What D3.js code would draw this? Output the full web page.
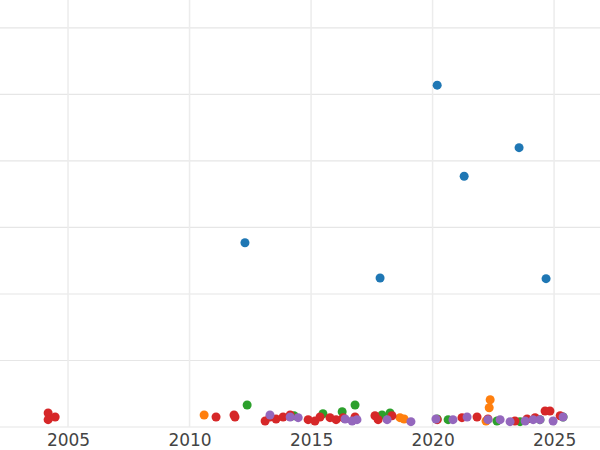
<!DOCTYPE html>
<html><head><meta charset="utf-8">
<script src="https://cdn.jsdelivr.net/npm/d3@7"></script>
<style>body{margin:0;background:#fff}</style></head>
<body><svg id="c" width="600" height="450"></svg>
<script>
const blue=[[2020.19,5.14],[2023.56,4.20],[2021.30,3.77],[2012.28,2.77],[2017.84,2.24],[2024.67,2.23]];
const orange=[[2010.60,0.18],[2018.66,0.14],[2018.83,0.12],[2022.37,0.41],[2022.33,0.29],[2022.20,0.09]];
const green=[[2012.37,0.33],[2014.30,0.17],[2015.49,0.20],[2016.28,0.23],[2016.81,0.33],[2017.92,0.18],[2018.25,0.21],[2020.19,0.12],[2020.64,0.11],[2022.65,0.09],[2023.60,0.08],[2024.42,0.11],[2025.37,0.15]];
const red=[[2004.18,0.21],[2004.18,0.11],[2004.47,0.15],[2011.09,0.15],[2011.83,0.18],[2011.87,0.15],[2013.11,0.09],[2013.31,0.15],[2013.56,0.12],[2013.85,0.15],[2014.14,0.18],[2014.88,0.11],[2015.16,0.09],[2015.37,0.15],[2015.78,0.14],[2016.03,0.11],[2016.32,0.14],[2016.81,0.15],[2017.63,0.17],[2017.76,0.11],[2018.33,0.17],[2020.19,0.11],[2021.21,0.14],[2021.83,0.15],[2022.28,0.12],[2023.39,0.09],[2023.89,0.12],[2024.22,0.14],[2024.63,0.24],[2024.83,0.24],[2025.25,0.17]];
const purple=[[2013.31,0.18],[2014.14,0.15],[2014.47,0.14],[2016.40,0.12],[2016.69,0.09],[2016.89,0.11],[2018.13,0.11],[2019.11,0.08],[2020.14,0.12],[2020.84,0.11],[2021.42,0.15],[2022.28,0.11],[2022.78,0.11],[2023.19,0.08],[2023.81,0.09],[2024.14,0.11],[2024.42,0.11],[2024.96,0.09],[2025.37,0.15]];
const xTicks=[2005,2010,2015,2020,2025];
const yTicks=[0,1,2,3,4,5,6];
const svg=d3.select("#c");
const x=d3.scaleLinear().domain([2002.2,2026.89]).range([0,600]);
const y=d3.scaleLinear().domain([0,6.42]).range([427,0]);
svg.append("g").selectAll("line").data(yTicks).join("line")
 .attr("x1",0).attr("x2",600).attr("y1",d=>y(d)).attr("y2",d=>y(d)).attr("stroke","#e6e6e6").attr("stroke-width",1.2);
svg.append("g").selectAll("line").data(xTicks).join("line")
 .attr("x1",d=>x(d)).attr("x2",d=>x(d)).attr("y1",0).attr("y2",427).attr("stroke","#ececec").attr("stroke-width",1.5);
const ax=svg.append("g").attr("transform","translate(0,427)").call(d3.axisBottom(x).tickValues(xTicks).tickFormat(d3.format("d")).tickSize(0).tickPadding(7));
ax.select(".domain").remove();
ax.selectAll("text").attr("font-family","DejaVu Sans").attr("font-size",17).attr("fill","#444");
[[blue,"#1f77b4"],[orange,"#ff7f0e"],[green,"#2ca02c"],[red,"#d62728"],[purple,"#9467bd"]].forEach(([d,c])=>{
 svg.append("g").selectAll("circle").data(d).join("circle")
  .attr("cx",p=>x(p[0])).attr("cy",p=>y(p[1])).attr("r",4.5).attr("fill",c);
});
</script></body></html>
